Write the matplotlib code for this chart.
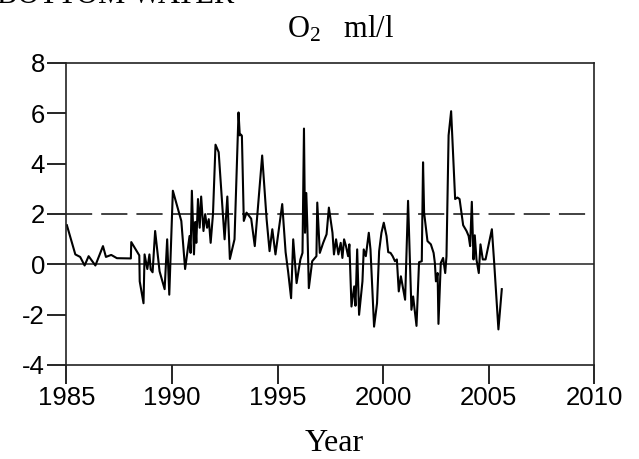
import matplotlib
matplotlib.use("Agg")
import matplotlib.pyplot as plt

# O2 anomaly
year = [1985.02, 1985.42, 1985.65, 1985.86, 1986.05, 1986.37, 1986.73, 1986.87, 1987.12, 1987.39,
        1988.05, 1988.07, 1988.45, 1988.47, 1988.65, 1988.70, 1988.83, 1988.93, 1988.99, 1989.08,
        1989.20, 1989.41, 1989.65, 1989.77, 1989.87, 1990.04, 1990.44, 1990.62, 1990.83, 1990.88,
        1990.94, 1991.04, 1991.10, 1991.15, 1991.23, 1991.31, 1991.38, 1991.49, 1991.57, 1991.66,
        1991.74, 1991.83, 1991.94, 1992.06, 1992.21, 1992.49, 1992.62, 1992.74, 1992.96, 1993.15,
        1993.21, 1993.27, 1993.31, 1993.40, 1993.53, 1993.75, 1993.92, 1994.27, 1994.48, 1994.62,
        1994.75, 1994.90, 1995.22, 1995.38, 1995.50, 1995.64, 1995.74, 1995.90, 1996.08, 1996.18,
        1996.25, 1996.30, 1996.36, 1996.41, 1996.48, 1996.64, 1996.84, 1996.88, 1997.00, 1997.11,
        1997.16, 1997.32, 1997.43, 1997.60, 1997.67, 1997.77, 1997.88, 1997.99, 1998.07, 1998.15,
        1998.24, 1998.34, 1998.40, 1998.50, 1998.63, 1998.69, 1998.77, 1998.86, 1999.02, 1999.08,
        1999.18, 1999.32, 1999.40, 1999.57, 1999.71, 1999.81, 1999.92, 2000.03, 2000.16, 2000.24,
        2000.35, 2000.45, 2000.56, 2000.65, 2000.74, 2000.84, 2000.95, 2001.04, 2001.18, 2001.34,
        2001.42, 2001.58, 2001.70, 2001.83, 2001.89, 2001.94, 2002.10, 2002.26, 2002.39, 2002.45,
        2002.50, 2002.58, 2002.62, 2002.73, 2002.84, 2002.94, 2003.00, 2003.10, 2003.22, 2003.41,
        2003.52, 2003.62, 2003.79, 2003.95, 2004.05, 2004.12, 2004.20, 2004.28, 2004.34, 2004.42,
        2004.53, 2004.61, 2004.72, 2004.85, 2005.15, 2005.26, 2005.46, 2005.62]
o2 = [1.55, 0.39, 0.29, -0.05, 0.32, -0.05, 0.72, 0.29, 0.37, 0.24,
      0.23, 0.88, 0.35, -0.68, -1.55, 0.39, -0.19, 0.39, -0.21, -0.32,
      1.32, -0.28, -0.99, 0.99, -1.21, 2.92, 1.72, -0.19, 1.12, 0.45,
      2.92, 0.39, 1.68, 0.85, 2.59, 1.45, 2.69, 1.32, 1.99, 1.45,
      1.79, 0.85, 1.99, 4.75, 4.45, 0.99, 2.69, 0.21, 0.99, 6.03,
      5.12, 5.15, 5.10, 1.72, 2.05, 1.81, 0.72, 4.32, 1.79, 0.52,
      1.39, 0.39, 2.39, 0.48, -0.30, -1.35, 0.99, -0.75, 0.19, 0.45,
      5.39, 1.25, 2.83, 1.50, -0.95, 0.12, 0.32, 2.45, 0.45, 0.72,
      0.85, 1.19, 2.25, 1.25, 0.39, 0.99, 0.39, 0.85, 0.25, 0.99,
      0.72, 0.32, 0.79, -1.68, -0.88, -1.65, 0.59, -2.01, -0.68, 0.59,
      0.32, 1.25, 0.59, -2.48, -1.55, 0.52, 1.25, 1.65, 1.12, 0.48,
      0.45, 0.32, 0.12, 0.19, -1.08, -0.48, -1.00, -1.41, 2.52, -1.81,
      -1.28, -2.45, 0.08, 0.12, 4.05, 2.05, 0.92, 0.79, 0.45, 0.05,
      -0.68, -0.35, -2.37, 0.05, 0.25, -0.35, 0.32, 5.12, 6.08, 2.59,
      2.65, 2.59, 1.55, 1.32, 1.12, 0.72, 2.48, 0.19, 1.15, 0.19,
      -0.35, 0.79, 0.19, 0.19, 1.39, 0.05, -2.59, -0.99]

xticks = [1985, 1990, 1995, 2000, 2005, 2010]
yticks = [-4, -2, 0, 2, 4, 6, 8]
threshold = 2

plt.rcParams['axes.unicode_minus'] = False
plt.rcParams['font.family'] = 'Liberation Sans'
plt.rcParams['mathtext.fontset'] = 'custom'
plt.rcParams['mathtext.rm'] = 'Liberation Serif'

fig = plt.figure(figsize=(6.39, 4.59), dpi=100)
ax = fig.add_axes([0.104, 0.205, 0.826, 0.658])

ax.axhline(threshold, color='#333333', lw=1.3, dashes=(14.5, 5.0))
ax.axhline(0, color='#333333', lw=1.2)
ax.plot(year, o2, color='black', lw=1.5)

ax.set_xlim(1985, 2010)
ax.set_ylim(-4, 8)
ax.set_xticks(xticks)
ax.set_yticks(yticks)
ax.tick_params(direction='out', length=13.5, width=1.2, labelsize=18.5, pad=2)
for s in ax.spines.values():
    s.set_linewidth(1.2)
    s.set_color('#222222')

# title and axis label in serif, placed by pixel like the reference
fig.text(341 / 639, 1 - 38 / 459, r'O$\mathrm{_2}$   ml/l', family='Liberation Serif',
         fontsize=22, ha='center', va='baseline')
fig.text(334 / 639, 1 - 451 / 459, 'Year', family='Liberation Serif',
         fontsize=23, ha='center', va='baseline')

fig.text(-0.005, 1 - 3 / 459, 'BOTTOM WATER', family='Liberation Serif',
         fontsize=22, va='baseline', ha='left')

fig.savefig('out.png', dpi=100)
